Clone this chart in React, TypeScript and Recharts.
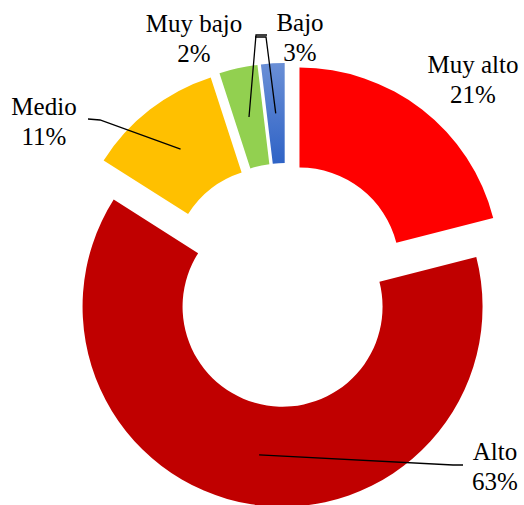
import React from "react";
import { PieChart, Pie, Cell } from "recharts";

// ---- data ----
const categories = ["Muy alto", "Alto", "Medio", "Bajo", "Muy bajo"];
const values = [21, 63, 11, 3.1, 1.9];
const colors = ["#FF0000", "#C00000", "#FFC000", "#92D050", "url(#blueGrad)"];

// ---- layout (not data) ----
const W = 524;
const H = 505;
const CX = 286;
const CY = 285;
const INNER = 100;
const OUTER = 200;
const EXPLODE = 22;
const FONT = "Liberation Serif";
const FONT_SIZE = 25;
const LINE_GAP = 30;

// label text centre x / first-line baseline, and leader elbow points
const labelLayout: Record<string, { x: number; y: number; elbow: [number, number][] }> = {
  "Muy alto": { x: 473, y: 73, elbow: [] },
  Alto: { x: 495, y: 460, elbow: [[463, 465], [453, 465]] },
  Medio: { x: 44, y: 115, elbow: [[88, 119], [100, 120]] },
  Bajo: { x: 300, y: 31, elbow: [[267, 35], [256, 35]] },
  "Muy bajo": { x: 194, y: 32, elbow: [[255, 37], [266, 37]] },
};

const rows = categories.map((name, i) => ({ name, value: values[i] }));
const total = values.reduce((a, b) => a + b, 0);
const RAD = Math.PI / 180;

const midAngles = (() => {
  let cum = 0;
  return values.map((v) => {
    const m = 90 - (360 * (cum + v / 2)) / total;
    cum += v;
    return m;
  });
})();

const css = `
.pie-lbl, .pie-lbl tspan, .recharts-pie-labels text, .recharts-wrapper text {
  font-family: "Liberation Serif", serif !important;
  font-size: ${FONT_SIZE}px !important;
}
`;

const makeLabel = (target: number) => (props: any) => {
  const { cx, cy, midAngle, innerRadius, outerRadius, index, percent, name } = props;
  if (index !== target) return null;
  const r = (innerRadius + outerRadius) / 2;
  const ex = cx + r * Math.cos(-midAngle * RAD);
  const ey = cy + r * Math.sin(-midAngle * RAD);
  const lay = labelLayout[name];
  const pts = [...lay.elbow, [ex, ey]] as [number, number][];
  return (
    <g>
      {lay.elbow.length > 0 && (
        <polyline
          points={pts.map((p) => p.join(",")).join(" ")}
          fill="none"
          stroke="#000"
          strokeWidth={1.3}
        />
      )}
      <text className="pie-lbl" x={lay.x} y={lay.y} textAnchor="middle" fill="#000">
        {name}
      </text>
      <text className="pie-lbl" x={lay.x} y={lay.y + LINE_GAP} textAnchor="middle" fill="#000">
        {`${Math.round(percent * 100)}%`}
      </text>
    </g>
  );
};

export default function App() {
  return (
    <div style={{ position: "absolute", left: 0, top: 0, background: "#fff", fontFamily: FONT }}>
      <style>{css}</style>
      <PieChart width={W} height={H} margin={{ top: 0, right: 0, bottom: 0, left: 0 }} style={{ fontFamily: FONT }}>
        <defs>
          <linearGradient id="blueGrad" x1="0" y1="0" x2="0" y2="1">
            <stop offset="0%" stopColor="#6A8FD6" />
            <stop offset="100%" stopColor="#2F63C6" />
          </linearGradient>
        </defs>
        {rows.map((_, k) => (
          <Pie
            key={k}
            data={rows}
            dataKey="value"
            nameKey="name"
            cx={CX + EXPLODE * Math.cos(-midAngles[k] * RAD)}
            cy={CY + EXPLODE * Math.sin(-midAngles[k] * RAD)}
            innerRadius={INNER}
            outerRadius={OUTER}
            startAngle={90}
            endAngle={-270}
            stroke="none"
            isAnimationActive={false}
            labelLine={false}
            label={makeLabel(k)}
          >
            {rows.map((r, i) => (
              <Cell key={r.name} fill={i === k ? colors[i] : "none"} stroke="none" />
            ))}
          </Pie>
        ))}
      </PieChart>
    </div>
  );
}
